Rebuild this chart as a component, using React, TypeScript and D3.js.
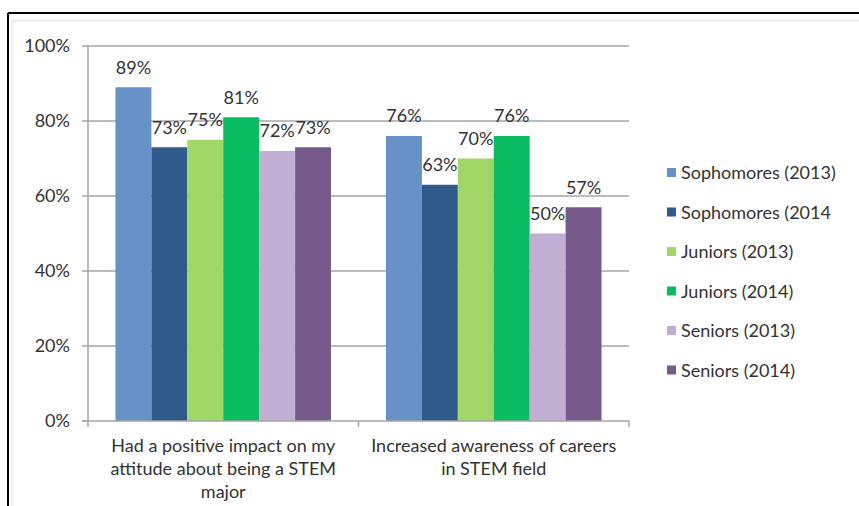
import React from "react";
import * as d3 from "d3";

const categories = [
  ["Had a positive impact on my", "attitude about being a STEM", "major"],
  ["Increased awareness of careers", "in STEM field"],
];
const seriesNames = [
  "Sophomores (2013)",
  "Sophomores (2014",
  "Juniors (2013)",
  "Juniors (2014)",
  "Seniors (2013)",
  "Seniors (2014)",
];
const seriesColors = ["#6792C8", "#2F5A8C", "#A1D767", "#0ABD62", "#C0AED3", "#775A8C"];
const values = [
  [89, 76],
  [73, 63],
  [75, 70],
  [81, 76],
  [72, 50],
  [73, 57],
];
const yTicks = [0, 20, 40, 60, 80, 100];

const W = 859;
const H = 506;
const M = { left: 88, right: 629, top: 46, bottom: 421 };
const FONT = "Lato, 'Open Sans', sans-serif";
const FS = 18;
const TXT = "#333333";

export default function App() {
  const x0 = d3.scaleBand<number>().domain(d3.range(categories.length)).range([M.left, M.right]).paddingInner(0).paddingOuter(0);
  const x1 = d3.scaleBand<number>().domain(d3.range(seriesNames.length)).range([0, x0.bandwidth()]).paddingInner(0).paddingOuter(0.765);
  const y = d3.scaleLinear().domain([0, 100]).range([M.bottom, M.top]);

  return (
    <svg width={W} height={H} style={{ position: "absolute", left: 0, top: 0, background: "#fff" }}>
      <rect x={0} y={0} width={W} height={H} fill="#fff" />
      {/* frame */}
      <line x1={8} y1={13} x2={W} y2={13} stroke="#000" strokeWidth={2} />
      <line x1={8} y1={13} x2={8} y2={H} stroke="#000" strokeWidth={2} />
      <line x1={12} y1={20.5} x2={W} y2={20.5} stroke="#e6e6e6" strokeWidth={1.5} />
      <line x1={12} y1={20.5} x2={12} y2={H} stroke="#e6e6e6" strokeWidth={1.5} />

      {/* gridlines */}
      {yTicks.map((t) => (
        <g key={t}>
          {t > 0 && (
            <line x1={M.left} x2={M.right} y1={y(t)} y2={y(t)} stroke="#A6A6A6" strokeWidth={1.5} />
          )}
          <line x1={M.left - 6} x2={M.left} y1={y(t)} y2={y(t)} stroke="#A6A6A6" strokeWidth={1.5} />
          <text x={70} y={y(t)} dy="0.35em" textAnchor="end" fontFamily={FONT} fontSize={FS} fill={TXT}>
            {t}%
          </text>
        </g>
      ))}

      {/* bars */}
      {values.map((sv, si) =>
        sv.map((v, ci) => {
          const bx = (x0(ci) as number) + (x1(si) as number);
          return (
            <g key={`${si}-${ci}`}>
              <rect x={bx} y={y(v)} width={x1.bandwidth()} height={y(0) - y(v)} fill={seriesColors[si]} />
              <text
                x={bx + x1.bandwidth() / 2}
                y={y(v) - 20}
                dy="0.35em"
                textAnchor="middle"
                fontFamily={FONT}
                fontSize={FS}
                fill={TXT}
              >
                {v}%
              </text>
            </g>
          );
        })
      )}

      {/* axes */}
      <line x1={M.left} x2={M.left} y1={M.top} y2={M.bottom} stroke="#A6A6A6" strokeWidth={1.5} />
      <line x1={M.left - 6} x2={M.right} y1={M.bottom} y2={M.bottom} stroke="#A6A6A6" strokeWidth={1.5} />
      {[0, 1, 2].map((i) => {
        const tx = M.left + i * x0.bandwidth();
        return <line key={i} x1={tx} x2={tx} y1={M.bottom} y2={M.bottom + 6} stroke="#A6A6A6" strokeWidth={1.5} />;
      })}
      {categories.map((lines, ci) => (
        <text
          key={ci}
          x={(x0(ci) as number) + x0.bandwidth() / 2}
          y={446}
          textAnchor="middle"
          fontFamily={FONT}
          fontSize={FS}
          fill={TXT}
        >
          {lines.map((l, li) => (
            <tspan key={li} x={(x0(ci) as number) + x0.bandwidth() / 2} dy={li === 0 ? "0.35em" : 23}>
              {l}
            </tspan>
          ))}
        </text>
      ))}

      {/* legend */}
      {seriesNames.map((n, i) => {
        const ly = 173 + i * 39.5;
        return (
          <g key={n}>
            <rect x={667} y={ly - 5} width={9} height={9} fill={seriesColors[i]} />
            <text x={681} y={ly} dy="0.35em" fontFamily={FONT} fontSize={FS} fill={TXT}>
              {n}
            </text>
          </g>
        );
      })}
    </svg>
  );
}
